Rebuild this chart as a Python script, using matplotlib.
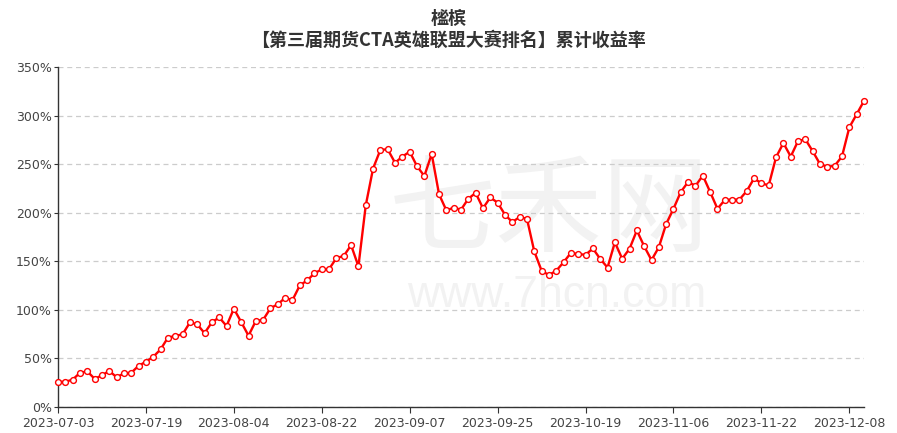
import numpy as np
import pandas as pd
import matplotlib
matplotlib.use("Agg")
import matplotlib.pyplot as plt

# trading days (national day holiday removed)
dates = pd.bdate_range("2023-07-03", "2023-12-12")
dates = dates[(dates < "2023-09-29") | (dates > "2023-10-06")]
date_labels = [d.strftime("%Y-%m-%d") for d in dates]

# cumulative return, %
returns = [
    25.9, 25.9, 28.2, 35.2, 36.7, 29.0, 32.5, 37.2, 30.6, 34.6,
    35.3, 42.4, 46.6, 51.7, 59.3, 71.4, 73.2, 74.8, 87.0, 85.1,
    76.0, 87.2, 92.2, 83.4, 101.2, 87.5, 73.4, 88.6, 89.8, 101.7,
    105.8, 112.4, 110.0, 125.2, 130.3, 137.6, 141.7, 142.0, 153.4, 155.5,
    166.6, 144.8, 207.5, 245.5, 264.8, 265.2, 251.4, 257.8, 262.8, 247.8,
    237.8, 260.5, 219.1, 202.4, 205.2, 203.1, 214.4, 220.4, 204.6, 215.7,
    210.3, 198.0, 190.4, 195.5, 193.8, 160.2, 140.3, 135.8, 140.3, 149.0,
    158.7, 157.4, 156.7, 163.2, 152.4, 143.6, 169.5, 152.6, 162.9, 181.7,
    165.5, 151.2, 164.5, 188.4, 204.1, 221.4, 231.7, 227.6, 238.3, 221.4,
    204.1, 213.1, 213.5, 213.5, 222.4, 235.4, 230.2, 228.2, 257.2, 271.7,
    257.8, 273.8, 275.5, 263.3, 250.0, 247.3, 248.3, 258.0, 287.9, 301.4,
    315.1,
]
y_ticks = [0, 50, 100, 150, 200, 250, 300, 350]

title = "榓槟\n【第三届期货CTA英雄联盟大赛排名】累计收益率"

plt.rcParams["font.family"] = ["DejaVu Sans", "Noto Sans CJK SC"]

fig = plt.figure(figsize=(8.97, 4.33), dpi=100)
ax = fig.add_axes([58 / 897, 26 / 433, 806 / 897, 340 / 433])
ax.set_zorder(1)
ax.patch.set_alpha(0)

# watermark (behind the axes)
fig.text(549 / 897, 1 - 212 / 433, "七禾网", fontsize=77, color="#f2f2f2",
         family="Noto Sans CJK SC", ha="center", va="center", zorder=0)
fig.text(557 / 897, 1 - 307 / 433, "www.7hcn.com", fontsize=32, color="#f2f2f2",
         family="Liberation Sans", ha="center", va="baseline", zorder=0)

x = np.arange(len(returns))
ax.plot(x, returns, color="#ff0000", lw=1.7, marker="o", ms=4.2,
        mfc="white", mec="#ff0000", mew=1, zorder=3, clip_on=False)

ax.set_xlim(0, len(returns) - 1)
ax.set_ylim(0, 350)
ax.set_yticks(y_ticks)
ax.set_yticklabels([f"{v}%" for v in y_ticks])
ax.set_xticks(x[::12])
ax.set_xticklabels([date_labels[i] for i in x[::12]])

ax.grid(axis="y", linestyle=(0, (4, 3)), color="#cccccc", lw=0.9)
ax.set_axisbelow(True)
for s in ["top", "right"]:
    ax.spines[s].set_visible(False)
for s in ["left", "bottom"]:
    ax.spines[s].set_color("#333333")
    ax.spines[s].set_linewidth(1)
ax.tick_params(axis="both", colors="#333333", labelcolor="#444444", labelsize=9)
ax.tick_params(axis="x", length=4, pad=3)
ax.tick_params(axis="y", length=3, pad=1.5)

fig.text(0.5, 1 - 29 / 433, title, ha="center", va="center", fontsize=13,
         fontweight="bold", color="#333333", linespacing=1.2,
         family=["Noto Sans CJK SC", "DejaVu Sans"])

fig.savefig("out.png", dpi=100)
